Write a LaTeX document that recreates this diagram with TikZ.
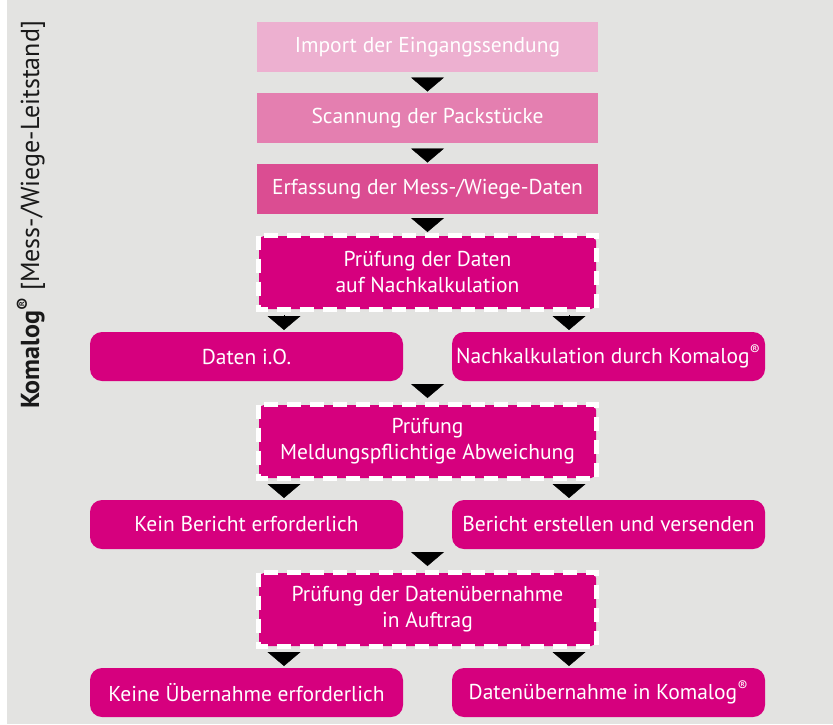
\documentclass[tikz,border=0pt]{standalone}
\usepackage{fontspec}
\setmainfont{PT Sans}
\usetikzlibrary{arrows.meta,positioning}
\definecolor{komagenta}{HTML}{D6007E}
\definecolor{komrosa}{HTML}{EDB0D0}
\definecolor{komrosb}{HTML}{E47FB0}
\definecolor{komrosc}{HTML}{DB4D92}
\definecolor{komgrau}{HTML}{E3E3E1}
\newcommand{\regd}{\textsuperscript{®}}

\begin{document}
\begin{tikzpicture}[
  x=1pt, y=-1pt,
  font=\fontsize{21.5}{26}\selectfont,
  every node/.style={outer sep=0pt},
  proc/.style={fill=#1, text=white, minimum width=341pt, minimum height=50pt, inner sep=0pt},
  check/.style={fill=komagenta, rounded corners=5pt, text=white, align=center, minimum width=337pt, minimum height=73pt, inner sep=0pt},
  frame/.style={draw=white, line width=5pt, dash pattern=on 14pt off 9pt},
  res/.style={fill=komagenta, text=white, rounded corners=12pt, minimum width=313pt, minimum height=49pt, inner sep=0pt},
  tri/.style={-{Triangle[width=33pt,length=14pt]}, shorten <=5.5pt, shorten >=1.5pt}
]
\useasboundingbox (0,0) rectangle (833,724);
\fill[komgrau] (7,0) rectangle (833,724);

\node[rotate=90, font=\fontsize{26}{30}\selectfont, text=black!90] (titel) at (31,215)
  {\textbf{Komalog\regd} [Mess-/Wiege-Leitstand]};

% Erfassung
\node[proc=komrosa] (imp) at (427.5,47) {Import der Eingangssendung};
\node[proc=komrosb, below=21pt of imp] (scan) {Scannung der Packstücke};
\node[proc=komrosc, below=21pt of scan] (erf) {Erfassung der Mess-/Wiege-Daten};

% Pruefungen
\node[check, below=22pt of erf] (pdat) {Prüfung der Daten\\auf Nachkalkulation};
\node[res, below=23pt of pdat.south, anchor=north east, xshift=-24.5pt] (dok) {Daten i.O.};
\node[res, below=23pt of pdat.south, anchor=north west, xshift=24.5pt] (nak) {Nachkalkulation durch Komalog\regd};

\node[check, below=96pt of pdat] (pmel) {Prüfung\\Meldungspflichtige Abweichung};
\node[res, below=22pt of pmel.south, anchor=north east, xshift=-24.5pt] (kein) {Kein Bericht erforderlich};
\node[res, below=22pt of pmel.south, anchor=north west, xshift=24.5pt] (ber) {Bericht erstellen und versenden};

\node[check, below=95pt of pmel] (pauf) {Prüfung der Datenübernahme\\in Auftrag};
\node[res, below=22pt of pauf.south, anchor=north east, xshift=-24.5pt] (keue) {Keine Übernahme erforderlich};
\node[res, below=22pt of pauf.south, anchor=north west, xshift=24.5pt] (dueb) {Datenübernahme in Komalog\regd};

% gestrichelte Rahmen
\foreach \p in {pdat, pmel, pauf}
  \draw[frame] ([xshift=-.5pt,yshift=.5pt]\p.north west) rectangle ([xshift=.5pt,yshift=-.5pt]\p.south east);

% Pfeile
\draw[tri] (imp) -- (scan);
\draw[tri] (scan) -- (erf);
\draw[tri, shorten >=4pt, shorten <=4pt] (erf) -- (pdat);
\foreach \p/\l/\r in {pdat/dok/nak, pmel/kein/ber, pauf/keue/dueb}{
  \coordinate (\p l) at ([xshift=25pt]\p.south west);
  \coordinate (\p r) at ([xshift=-27pt]\p.south east);
  \draw[tri, shorten <=6pt, shorten >=2pt] (\p l) -- (\p l |- \l.north);
  \draw[tri, shorten <=6pt, shorten >=2pt] (\p r) -- (\p r |- \r.north);
}
\draw[tri, shorten <=3pt, shorten >=7pt] (dok.south -| pmel.north) -- (pmel.north);
\draw[tri, shorten <=3pt, shorten >=7pt] (kein.south -| pauf.north) -- (pauf.north);
\end{tikzpicture}
\end{document}
